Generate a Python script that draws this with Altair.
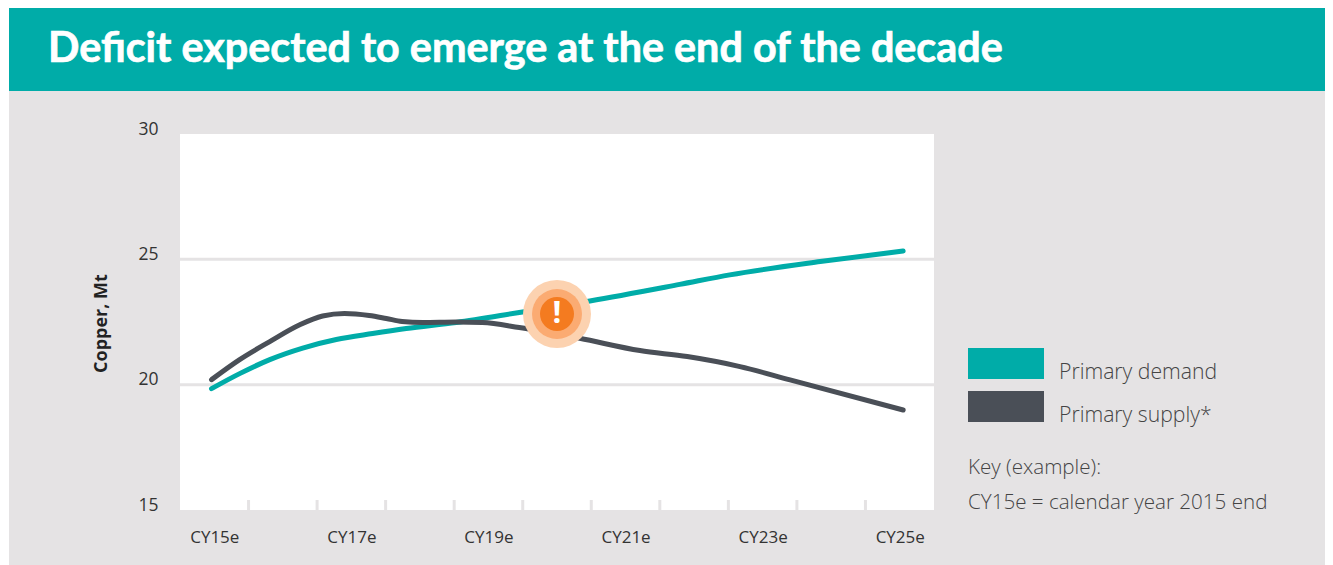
import altair as alt
import pandas as pd

TITLE = "Deficit expected to emerge at the end of the decade"
demand_x = [2014.96, 2015.37, 2015.81, 2016.29, 2016.78, 2017.31, 2017.8, 2018.53, 2019.45, 2020.48, 2021.79, 2022.52, 2023.84, 2025.05]
demand_y = [19.84, 20.44, 21.0, 21.46, 21.8, 22.04, 22.24, 22.48, 22.88, 23.34, 24.0, 24.38, 24.91, 25.33]
supply_x = [2014.96, 2015.37, 2015.81, 2016.24, 2016.58, 2016.9, 2017.26, 2017.51, 2017.74, 2018.04, 2018.53, 2018.91, 2019.45, 2020.33, 2021.21, 2021.9, 2022.67, 2023.4, 2025.05]
supply_y = [20.2, 21.0, 21.72, 22.38, 22.74, 22.84, 22.76, 22.64, 22.52, 22.48, 22.5, 22.48, 22.28, 21.85, 21.36, 21.12, 20.72, 20.19, 18.99]
highlight_x = [2020.0]
highlight_y = [22.82]
y_ticks = [15, 20, 25, 30]
grid_values = [20, 25]
x_label_years = [2015, 2017, 2019, 2021, 2023, 2025]
x_tick_positions = [2015.5 + i for i in range(10)]
series_names = ["Primary demand", "Primary supply*"]
series_colors = ["#00aca8", "#4a4f57"]

X_SCALE = alt.Scale(domain=[2014.5, 2025.5], nice=False, zero=False)
Y_SCALE = alt.Scale(domain=[15, 30], nice=False, zero=False)
BODY = "Open Sans"

x_axis = alt.Axis(values=x_label_years, labelExpr="'CY' + slice(format(datum.value, 'd'), 2) + 'e'",
                  title=None, domain=False, ticks=False, grid=False, labelFont=BODY, labelFontSize=17,
                  labelColor="#333333", labelPadding=19, labelFlush=False, zindex=1)
y_axis = alt.Axis(values=y_ticks, title="Copper, Mt", titleFont=BODY, titleFontSize=18, titleFontWeight="bold",
                  titleColor="#222222", titleX=-70, titleY=189, titleAnchor=None,
                  domain=False, ticks=False, grid=False, labelFont=BODY, labelFontSize=17.5, labelColor="#333333",
                  labelPadding=22, labelOffset=-5, zindex=1)


def box(x, x2, y, y2, color):
    return alt.Chart().mark_rect(color=color).encode(
        x=alt.value(x), x2=alt.value(x2), y=alt.value(y), y2=alt.value(y2))


def label(text, x, y, size, weight=300, color="#444444", font=BODY, **kw):
    return alt.Chart().mark_text(text=text, align="left", baseline="alphabetic", font=font, fontSize=size,
                                 fontWeight=weight, color=color, **kw).encode(x=alt.value(x), y=alt.value(y))


background = box(-171, 1153, -43, 431, "#e5e3e4")
header = box(-171, 1153, -126, -43, "#00aca8")
plot_bg = box(0, 754, 0, 376, "#ffffff")
header_text = label(TITLE, -132, -72, 41.3, 700, "#ffffff", "Lato", stroke="#ffffff", strokeWidth=0.7)

grid = alt.Chart(pd.DataFrame({"v": grid_values})).mark_rule(color="#e5e3e4", strokeWidth=3).encode(
    y=alt.Y("v:Q", scale=Y_SCALE, axis=y_axis))
ticks = alt.Chart(pd.DataFrame({"x": x_tick_positions})).mark_rule(color="#e5e3e4", strokeWidth=3).encode(
    x=alt.X("x:Q", scale=X_SCALE, axis=x_axis), y=alt.value(366), y2=alt.value(376))

lines_df = pd.concat([
    pd.DataFrame({"year": demand_x, "value": demand_y, "series": series_names[0]}),
    pd.DataFrame({"year": supply_x, "value": supply_y, "series": series_names[1]}),
])
lines = alt.Chart(lines_df).mark_line(strokeWidth=5, strokeCap="round", interpolate="monotone").encode(
    x=alt.X("year:Q", scale=X_SCALE, axis=x_axis),
    y=alt.Y("value:Q", scale=Y_SCALE, axis=y_axis),
    color=alt.Color("series:N", scale=alt.Scale(domain=series_names, range=series_colors), legend=None),
    order=alt.Order("year:Q"),
)

hl_df = pd.DataFrame({"x": highlight_x, "y": highlight_y})


def halo(area, color):
    return alt.Chart(hl_df).mark_point(filled=True, shape="circle", size=area, color=color, opacity=1).encode(
        x=alt.X("x:Q", scale=X_SCALE, axis=x_axis), y=alt.Y("y:Q", scale=Y_SCALE, axis=y_axis))


halos = [halo(4624, "#fcd2b0"), halo(2500, "#fbab72"), halo(1156, "#f47b20")]
bang = alt.Chart(hl_df).mark_text(text="!", font=BODY, fontWeight="bold", fontSize=31, color="#ffffff",
                                  baseline="middle").encode(
    x=alt.X("x:Q", scale=X_SCALE, axis=x_axis), y=alt.Y("y:Q", scale=Y_SCALE, axis=y_axis))

legend = [
    box(788, 864, 214, 245, series_colors[0]),
    box(788, 864, 257, 288, series_colors[1]),
    label(series_names[0], 879, 245, 21.2),
    label(series_names[1], 879, 288, 21.2),
    label("Key (example):", 788, 339.5, 20.6),
    label("CY15e = calendar year 2015 end", 788, 375, 20.6),
]

chart = alt.layer(background, header, plot_bg, header_text, grid, ticks, lines, *halos, bang, *legend).properties(
    width=754, height=376, padding={"left": 172, "top": 126, "right": 391, "bottom": 55},
    autosize=alt.AutoSizeParams(type="none"), background="#ffffff",
).configure_view(stroke=None)

chart.save("out.html", embed_options={"renderer": "svg", "actions": False})
